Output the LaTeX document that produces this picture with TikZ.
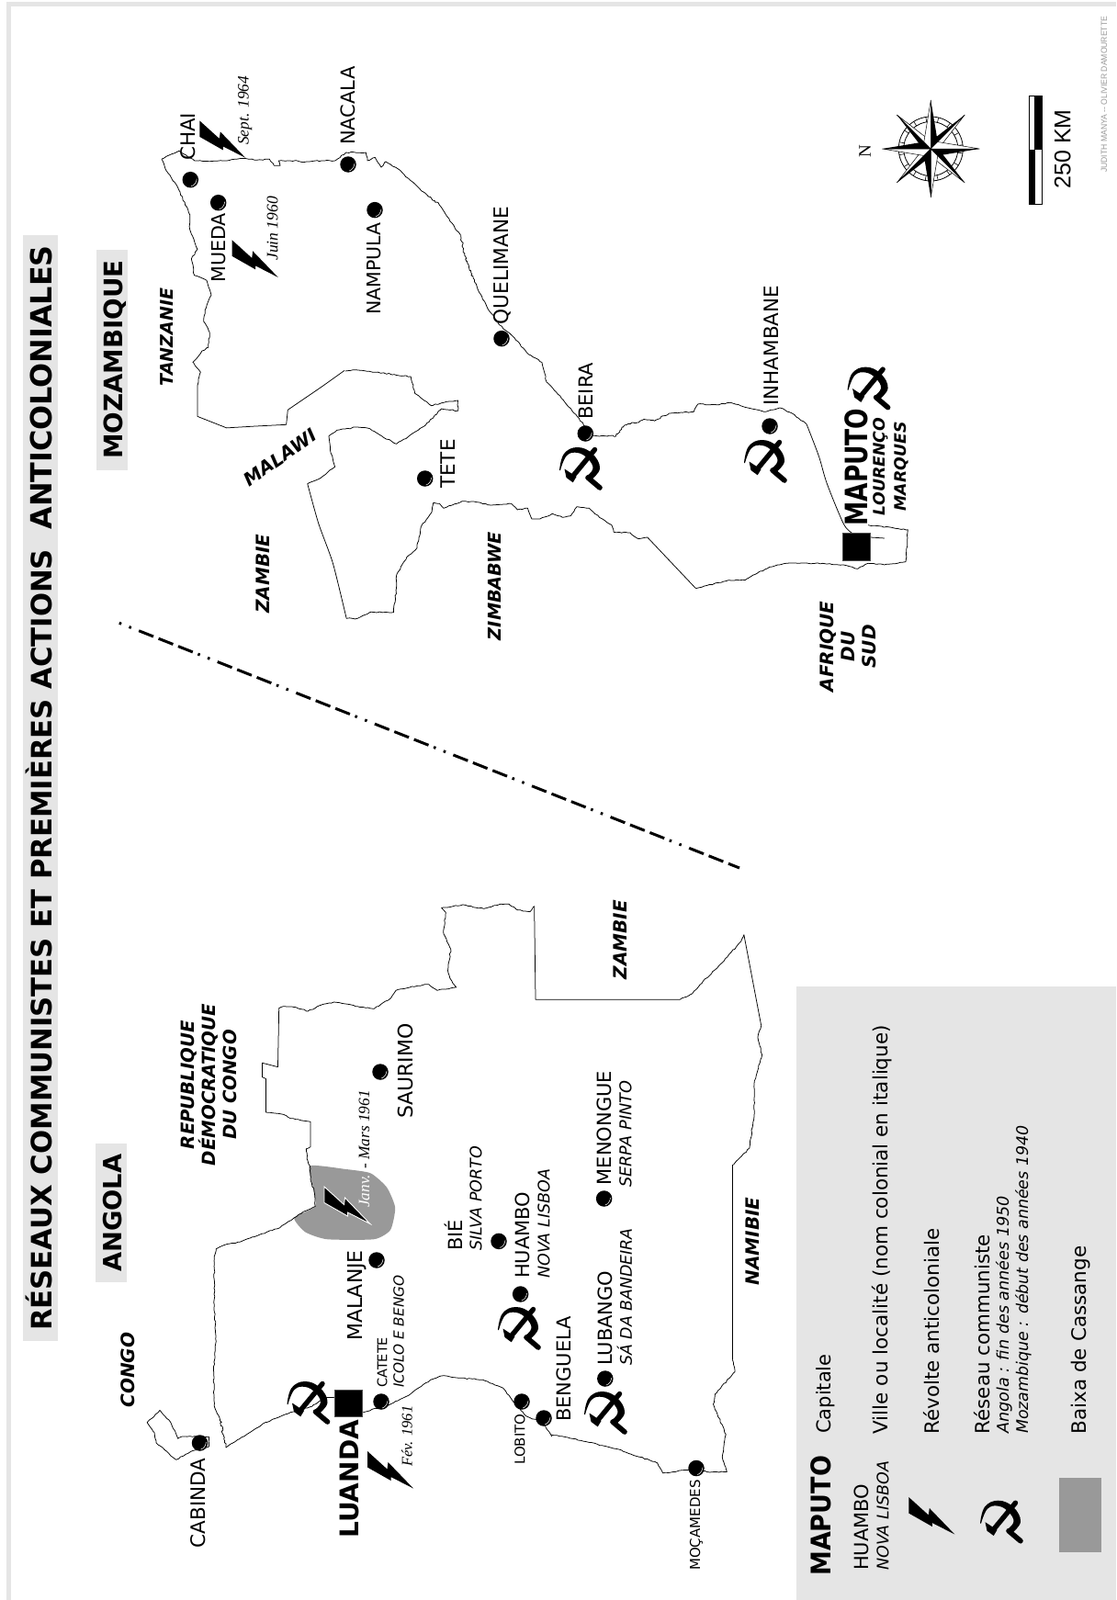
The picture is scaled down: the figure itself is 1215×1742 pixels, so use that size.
\documentclass[tikz,border=0pt]{standalone}
\usepackage{fontspec}
\setmainfont{DejaVu Sans}
\newfontfamily\serifit{Liberation Serif}
\newfontfamily\arialf{Liberation Sans}
\usetikzlibrary{decorations.pathmorphing}
\definecolor{panel}{HTML}{E5E5E5}
\definecolor{baixa}{HTML}{999999}
\tikzset{
  z1/.style={shift={(0,1050)},x=.3954pt,y=-.4413pt},
  z2/.style={shift={(600,1050)},x=.3922pt,y=-.4413pt},
  z3/.style={shift={(150,0)},x=.3333pt,y=-.357pt},
  z4/.style={shift={(320,400)},x=.4464pt,y=-.3333pt},
  z6/.style={shift={(150,950)},x=.4592pt,y=-.3333pt},
  border/.style={draw=black,line width=.75pt,line join=round},
  wig/.style={border,decorate,decoration={random steps,segment length=3pt,amplitude=.6pt}},
  wigbig/.style={border,decorate,decoration={random steps,segment length=1.8pt,amplitude=1.2pt}},
  fs/.style={font=\fontsize{#1}{#1}\selectfont},
  lab/.style={rotate=90,anchor=west,inner sep=0pt},
  blab/.style={rotate=90,anchor=base west,inner sep=0pt},
  fsi/.style={font=\fontsize{#1}{#1}\selectfont\itshape},
  fsb/.style={font=\fontsize{#1}{#1}\selectfont\bfseries},
  fsd/.style={font=\fontsize{#1}{#1}\selectfont\serifit\itshape},
  country/.style={rotate=90,anchor=center,inner sep=0pt,align=center,font=\fontsize{20}{23}\selectfont\bfseries\itshape},
  citydot/.style={circle,fill=black,inner sep=0pt,minimum size=17.5pt},
  capsq/.style={rectangle,fill=black,inner sep=0pt,draw=black!70,line width=.5pt,minimum width=30pt,minimum height=29.5pt},
  bolt/.pic={\fill[black] (0,0) -- (21.5,19.5) -- (22.5,12) -- (50,40.5) -- (25.5,28) -- (25.5,32) -- (0,17.5) -- cycle;},
  boltw/.pic={\filldraw[fill=black,draw=white,line width=.9pt,line join=miter] (0,0) -- (21.5,19.5) -- (22.5,12) -- (50,40.5) -- (25.5,28) -- (25.5,32) -- (0,17.5) -- cycle;},
  hammersickle/.pic={
    \draw[black,line width=5.4pt,line cap=round] (15.5,-20.5) -- (-8,8);
    \fill[black] (-17.5,.5) -- (-4.5,9) -- (-8.3,15.3) -- (-15.5,10) -- cycle;
    \fill[black] plot[smooth,tension=.7] coordinates {(-23,2) (-18,-16) (-3.3,-23) (13,-16) (21,0) (11,13)}
      -- plot[smooth,tension=.7] coordinates {(6.5,8.5) (13.5,0) (8,-10.5) (-3,-17) (-15,-14) (-22,2)} -- cycle;
    \draw[black,line width=5.6pt,line cap=round] (8,10) -- (21,21);
  },
}
\newcommand\citypt[3]{\node[citydot] (#1) at (#2,#3) {};
  \draw[white,line width=.5pt] (#2+7,#3-1) .. controls (#2+6.5,#3+3.6) and (#2+3.6,#3+6.5) .. (#2+1,#3+7);}
\begin{document}
\begin{tikzpicture}[x=1pt,y=-1pt]
\useasboundingbox (0,0) rectangle (1215,1742);
% frame
\fill[panel] (7,2) rectangle (1215,7);
\fill[panel] (7,2) rectangle (11.5,1742);
% title
\fill[panel] (25,256) rectangle (62.5,1460);
\node[blab,font=\fontsize{30.7}{31}\selectfont\bfseries] (title) at (56,1449) {RÉSEAUX COMMUNISTES ET PREMIÈRES ACTIONS\hspace{.35em} {\fontsize{31.8}{32}\selectfont ANTICOLONIALES}};
% country headers
\fill[panel] (104,1245) rectangle (138,1395.5);
\node[blab,fsb=27.3] (angola) at (132,1385) {ANGOLA};
\fill[panel] (105,272) rectangle (139,512);
\node[blab,fsb=27.7] (mozamb) at (133,500) {MOZAMBIQUE};
% legend panel
\fill[panel] (867,1074) rectangle (1215,1742);
\fill[baixa] (1153,1609) rectangle (1199,1690);
% Baixa de Cassange
\fill[baixa,z1] plot[smooth cycle,tension=.35] coordinates {(853,497) (950,505) (1020,515) (1065,550) (1088,600) (1075,655) (1030,678) (900,678) (840,660) (810,625) (868,597) (862,550)};
% ---- Angola outline
\draw[wigbig,z1] (622,1192) -- (605,1120);
\draw[wig,z1] (605,1120) -- (590,1090) -- (588,1000) -- (595,930) -- (590,840) -- (590,720) -- (595,702) -- (625,690) -- (660,685) -- (700,672) -- (735,660) -- (770,650) -- (810,625) -- (835,610) -- (868,597) -- (865,560) -- (855,530) -- (853,497) -- (845,480) -- (843,455) -- (855,450);
\draw[border,z1] (855,450) -- (855,388) -- (830,385);
\draw[wig,z1] (830,385) -- (800,380) -- (780,370) -- (732,365);
\draw[border,z1] (732,365) -- (732,282) -- (722,278) -- (722,243) -- (765,253) -- (768,110);
\draw[wig,z6] (333,445) -- (345,437) -- (375,440) -- (403,453) -- (440,430) -- (465,423) -- (520,437) -- (560,445) -- (600,410) -- (612,385) -- (650,372) -- (690,365) -- (710,385) -- (755,375) -- (740,345) -- (735,320) -- (742,250) -- (725,200) -- (730,130) -- (720,115) -- (770,105) -- (820,118) -- (860,103) -- (880,103) -- (900,122) -- (930,128) -- (940,110);
\draw[border,z6] (940,110) -- (943,415) -- (1285,415);
\draw[wig,z6] (1285,415) -- (1315,395) -- (1340,355) -- (1385,295) -- (1430,225) -- (1437,203);
\draw[border,z6] (1437,203) -- (1478,500);
\draw[wig,z6] (1478,500) -- (1470,540) -- (1480,595) -- (1462,680) -- (1462,780) -- (1450,900) -- (1412,955);
\draw[border,z2] (503,495) -- (503,975);
\draw[wig,z2] (503,975) -- (510,1005) -- (455,1060) -- (450,1085) -- (485,1160) -- (475,1215) -- (488,1252);
\draw[wig,z2] (488,1252) -- (440,1253) -- (400,1245) -- (310,1255) -- (295,1230) -- (180,1195) -- (60,1170) -- (0,1160);
\draw[wig,z1] (1520,1165) -- (1495,1130) -- (1450,1115) -- (1420,1085) -- (1385,1045) -- (1330,1025) -- (1260,1020) -- (1215,1015) -- (1185,1025) -- (1130,1060) -- (1075,1085) -- (1000,1105);
\draw[wig,z1] (920,1068) -- (895,1068) -- (860,1090) -- (800,1105) -- (730,1130) -- (622,1192);
% Cabinda
\draw[wig,z1] (575,1165) -- (500,1165) -- (490,1170) -- (470,1130) -- (440,1100) -- (405,1130) -- (425,1155) -- (430,1180) -- (485,1222) -- (530,1200) -- (575,1190) -- cycle;
% ---- Mozambique outline
\draw[wig,z3] (78,485) -- (110,470) -- (135,460) -- (185,490) -- (215,492) -- (280,490) -- (345,483) -- (390,488) -- (430,485) -- (445,505) -- (465,505) -- (460,490) -- (520,490) -- (540,495) -- (600,490) -- (645,490) -- (680,465) -- (745,465) -- (750,490) -- (775,480) -- (795,510) -- (810,493) -- (850,515) -- (890,550) -- (920,575) -- (950,600);
\draw[wigbig,z3] (950,600) -- (985,625);
\draw[wig,z3] (985,625) -- (1020,675) -- (1055,718);
\draw[wigbig,z3] (1055,718) -- (1070,790) -- (1100,860);
\draw[wig,z3] (1100,860) -- (1140,935) -- (1180,990) -- (1230,1030) -- (1270,1075) -- (1320,1105) -- (1335,1165) -- (1390,1220) -- (1435,1270) -- (1460,1300);
\draw[wig,z4] (712,218) -- (745,225) -- (765,225);
\draw[wigbig,z4] (765,225) -- (785,225) -- (800,195) -- (850,172) -- (880,175) -- (915,150);
\draw[wig,z4] (915,150) -- (975,145) -- (985,120) -- (1030,122) -- (1065,115) -- (1100,130) -- (1150,145) -- (1185,132) -- (1215,150) -- (1250,185);
\draw[border,z4] plot[smooth,tension=.5] coordinates {(1250,185) (1280,290) (1300,380) (1340,510) (1360,540)};
\draw[wig,z4] (1400,515) -- (1497,530) -- (1492,635) -- (1440,645) -- (1400,640) -- (1375,658) -- (1340,645) -- (1290,640) -- (1200,640) -- (1160,652) -- (1120,678) -- (1100,695) -- (1060,695) -- (980,722);
\draw[border,z4] (1405,555) -- (1440,558);
\draw[border,z4] (980,722) -- (862,555);
\draw[wig,z4] (862,555) -- (840,560) -- (820,540) -- (780,538) -- (775,515) -- (745,490) -- (720,460) -- (690,455) -- (675,485) -- (655,490) -- (630,478) -- (600,495) -- (580,495) -- (570,460) -- (545,465) -- (530,445) -- (480,450) -- (445,440) -- (410,437) -- (365,460) -- (355,445) -- (340,442) -- (335,475) -- (310,520) -- (300,590) -- (275,620) -- (250,680) -- (250,720) -- (243,800) -- (185,800) -- (155,820) -- (128,820);
\draw[border,z4] plot[smooth,tension=.4] coordinates {(128,820) (95,640) (60,510) (33,380)};
\draw[wig,z4] (33,380) -- (60,365) -- (100,325) -- (90,280) -- (85,225) -- (105,205) -- (155,195) -- (185,200) -- (215,225) -- (250,250) -- (280,225) -- (320,190) -- (360,135) -- (400,142) -- (400,108) -- (365,115) -- (335,125) -- (295,85) -- (285,30) -- (150,8) -- (125,12);
\draw[border,z3] (675,1130) -- (600,1180) -- (490,1250) -- (485,1295) -- (380,1300) -- (290,1305) -- (195,1270) -- (195,1175);
\draw[wig,z3] (195,1175) -- (205,1135) -- (180,1105) -- (210,1070) -- (230,1060) -- (235,1015) -- (215,980) -- (220,945) -- (240,900) -- (225,855) -- (185,840) -- (175,790) -- (195,760) -- (170,700) -- (170,655) -- (130,570) -- (90,515) -- (78,485);
% ---- dash-dot separator
\coordinate (sepA) at (129.8,678.3);
\coordinate (sepB) at (805,945);
\draw[black,line width=3pt,dash pattern=on 2.5pt off 9pt on 2.5pt off 9pt on 17pt off 6pt on 17pt off 6pt on 17pt off 6pt] (sepA) -- (sepB);
% ---- capitals
\node[capsq] (sqLuanda) at (379.6,1527.5) {};
\node[capsq] (sqMaputo) at (932.5,595) {};
% ---- symbols
\pic at (400,1580) {bolt};
\pic at (353,1292) {boltw};
\pic at (217.3,131.4) {bolt};
\pic at (252.7,261.4) {bolt};
\pic at (989.3,1630) {bolt};
\pic at (335.5,1527) {hammersickle};
\pic at (565,1446) {hammersickle};
\pic at (659,1538) {hammersickle};
\pic at (632,510) {hammersickle};
\pic at (833,502) {hammersickle};
\pic at (945.6,422.6) {hammersickle};
\pic at (1090,1656.7) {hammersickle};
% ---- cities: Angola
\citypt{dCabinda}{217.5}{1571}
\citypt{dCatete}{415}{1526}
\citypt{dMalanje}{410}{1372}
\citypt{dSaurimo}{414}{1167}
\citypt{dBie}{543}{1351.4}
\citypt{dHuambo}{566.6}{1409}
\citypt{dLobito}{568}{1526}
\citypt{dBenguela}{592}{1544}
\citypt{dLubango}{658.8}{1501}
\citypt{dMenongue}{657.6}{1305}
\citypt{dMocamedes}{758}{1598.5}
% cities: Mozambique
\citypt{dChai}{207.3}{195.7}
\citypt{dMueda}{237.7}{220.7}
\citypt{dNacala}{379}{179}
\citypt{dNampula}{408}{228.6}
\citypt{dQuelimane}{546}{368.6}
\citypt{dBeira}{637.3}{472}
\citypt{dTete}{462.7}{521}
\citypt{dInhambane}{838}{464}
% ---- city labels Angola
\node[lab,fs=21.5] (cabinda) at (216,1685.5) {CABINDA};
\node[lab,fsb=28] (luanda) at (380,1675) {LUANDA};
\node[lab,fs=14.5] (catete) at (416,1511) {CATETE};
\node[lab,fsi=15.3] (icolo) at (434,1511) {ICOLO E BENGO};
\node[lab,fs=22] (malanje) at (389,1460) {MALANJE};
\node[lab,fs=22] (saurimo) at (441,1218) {SAURIMO};
\node[lab,fs=21] (bie) at (493.5,1362) {BIÉ};
\node[lab,fsi=17.5] (silva) at (518,1362) {SILVA PORTO};
\node[lab,fs=21] (huambo) at (568.6,1392) {HUAMBO};
\node[lab,fsi=17.5] (nova) at (592,1392) {NOVA LISBOA};
\node[lab,fs=15] (lobito) at (566,1595) {LOBITO};
\node[lab,fs=21] (benguela) at (614,1548) {BENGUELA};
\node[lab,fs=21] (lubango) at (659,1487) {LUBANGO};
\node[lab,fsi=17.4] (sada) at (680,1487) {SÁ DA BANDEIRA};
\node[lab,fs=21] (menongue) at (658,1290.5) {MENONGUE};
\node[lab,fsi=17.7] (serpa) at (681,1293) {SERPA PINTO};
\node[lab,fs=15] (mocamedes) at (758,1710) {MOÇAMEDES};
\node[lab,fsd=16.5] (fev) at (443,1597) {Fév. 1961};
\node[lab,fsd=17.3,text=white] (janv) at (396.5,1315) {Janv.};
\node[lab,fsd=17.3] (mars) at (396.5,1273) {- Mars 1961};
% countries Angola side
\node[country] (congo) at (139,1491.5) {CONGO};
\node[country,font=\fontsize{19.7}{23}\selectfont\bfseries\itshape] (rdc) at (227,1181) {REPUBLIQUE\\DÉMOCRATIQUE\\DU CONGO};
\node[country] (zambieA) at (675,1023) {ZAMBIE};
\node[country] (namibie) at (819,1351.5) {NAMIBIE};
% ---- city labels Mozambique
\node[lab,fs=21.4] (chai) at (205,175) {CHAI};
\node[lab,fs=20.7] (mueda) at (238,308) {MUEDA};
\node[lab,fs=21] (nacala) at (379,158) {NACALA};
\node[lab,fs=20.5] (nampula) at (407,343) {NAMPULA};
\node[lab,fs=21.7] (quelimane) at (547,353.6) {QUELIMANE};
\node[lab,fs=21] (beira) at (638,457) {BEIRA};
\node[lab,fs=21.5] (tete) at (488,532) {TETE};
\node[lab,fs=21.5] (inhambane) at (840,442) {INHAMBANE};
\node[lab,fsb=33.5] (maputo) at (932.5,573) {\scalebox{.79}[1]{MAPUTO}};
\node[country,font=\fontsize{17.3}{23.3}\selectfont\bfseries\itshape] (lourenco) at (970,508) {LOURENÇO\\MARQUES};
\node[lab,fsd=17.4] (sept) at (266.7,158) {Sept. 1964};
\node[lab,fsd=17.6] (juin) at (296.7,284) {Juin 1960};
\node[country,font=\fontsize{19}{23}\selectfont\bfseries\itshape] (tanzanie) at (181.7,367) {TANZANIE};
\node[country,rotate=-55.2] (malawi) at (305,498) {MALAWI};
\node[country] (zambieM) at (286.5,624.5) {ZAMBIE};
\node[country,font=\fontsize{19.3}{23}\selectfont\bfseries\itshape] (zimbabwe) at (538.7,638) {ZIMBABWE};
\node[country] (afrique) at (923.5,704) {AFRIQUE\\DU\\SUD};
% ---- legend
\node[lab,fsb=29.5] (lgMaputo) at (894,1716) {\scalebox{.915}[1]{MAPUTO}};
\node[lab,fs=21] (lgCap) at (899,1561) {Capitale};
\node[lab,fs=21] (lgHuambo) at (938,1710) {HUAMBO};
\node[lab,fsi=17.5] (lgNova) at (961,1710) {NOVA LISBOA};
\node[lab,fs=21.5] (lgVille) at (960,1561.5) {Ville ou localité (nom colonial en italique)};
\node[lab,fs=21.4] (lgRev) at (1014,1561.5) {Révolte anticoloniale};
\node[lab,fs=21.4] (lgRes) at (1069.5,1561.5) {Réseau communiste};
\node[lab,fsi=17.6] (lgAng) at (1093,1561) {Angola : fin des années 1950};
\node[lab,fsi=17.4] (lgMoz) at (1114,1561) {Mozambique : début des années 1940};
\node[lab,fs=21.5] (lgBaixa) at (1176.5,1561.5) {Baixa de Cassange};
% ---- compass
\begin{scope}[shift={(1013.3,162)}]
  \draw[black,line width=.8pt] (0,0) circle[radius=35pt];
  \draw[black,line width=.8pt] (0,0) circle[radius=29.5pt];
  \foreach \a in {7,30,53,...,360} {\draw[black,line width=.6pt] (\a:29.5pt) -- (\a:35pt);}
  \foreach \r in {0,90,180,270} {
    \begin{scope}[rotate=\r]
      \filldraw[fill=white,draw=black,line width=.5pt] (0,0) -- (-3.5,-11) -- (-37,-37) -- cycle;
      \fill[black] (0,0) -- (-11,-3.5) -- (-37,-37) -- cycle;
    \end{scope}
  }
  \foreach \r in {0,90,180,270} {
    \begin{scope}[rotate=\r]
      \filldraw[fill=white,draw=black,line width=.5pt] (0,0) -- (-7.5,-7.5) -- (0,-53) -- cycle;
      \fill[black] (0,0) -- (7.5,-7.5) -- (0,-53) -- cycle;
    \end{scope}
  }
\end{scope}
\node[rotate=90,inner sep=0pt,font=\fontsize{19}{19}\selectfont\serifit] (north) at (941.7,165) {N};
% ---- scale bar
\filldraw[fill=white,draw=black,line width=.8pt] (1120,104) rectangle (1134,222);
\fill[black] (1126.7,104) rectangle (1134,163);
\fill[black] (1120,163) rectangle (1126.7,222);
\draw[black,line width=.6pt] (1126.7,104) -- (1126.7,222);
\node[lab,font=\fontsize{25}{25}\selectfont\arialf] (km) at (1156.7,205.5) {250 KM};
\node[lab,font=\fontsize{9.3}{9.3}\selectfont\arialf,text=baixa] (credit) at (1202,188) {\scalebox{.925}[1]{JUDITH MANYA -- OLIVIER DAMOURETTE}};
\end{tikzpicture}
\end{document}
